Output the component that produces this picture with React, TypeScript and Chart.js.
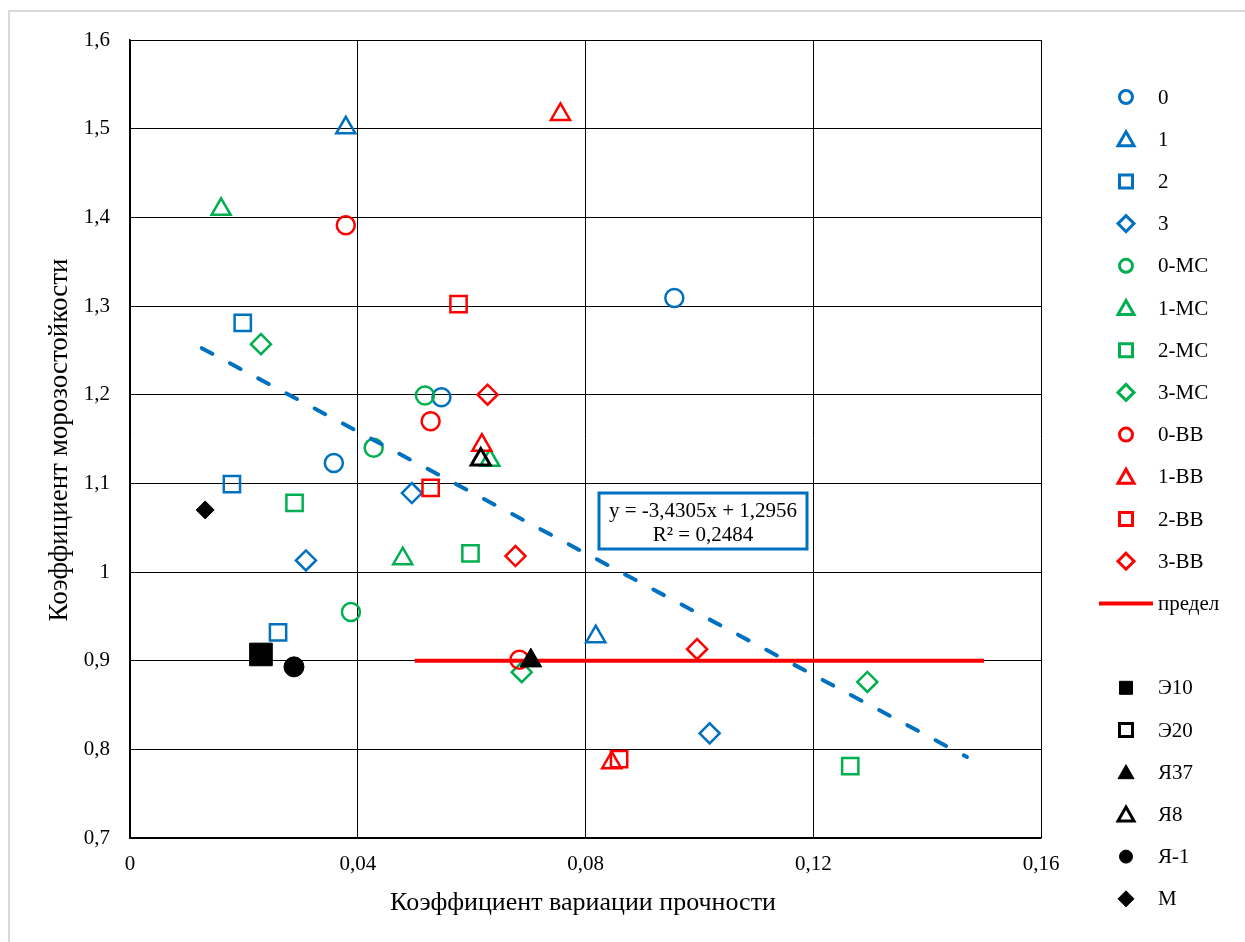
import React, { useEffect, useRef } from 'react';
import { Chart, registerables } from 'chart.js';

Chart.register(...registerables);

const BLUE = '#0070C0';
const GREEN = '#00B050';
const RED = '#FF0000';
const BLACK = '#000000';
const FONT = "'Liberation Serif', 'Times New Roman', serif";

// ---- data ----
const xTicks = [0, 0.04, 0.08, 0.12, 0.16];
const yTicks = [0.7, 0.8, 0.9, 1.0, 1.1, 1.2, 1.3, 1.4, 1.5, 1.6];

const s0X = [0.0956, 0.0547, 0.0358];
const s0Y = [1.309, 1.197, 1.123];
const s1X = [0.0379, 0.0818];
const s1Y = [1.501, 0.927];
const s2X = [0.0198, 0.0179, 0.026];
const s2Y = [1.281, 1.099, 0.932];
const s3X = [0.0495, 0.0309, 0.1018];
const s3Y = [1.089, 1.013, 0.818];
const s0MCX = [0.0518, 0.0428, 0.0388];
const s0MCY = [1.199, 1.14, 0.955];
const s1MCX = [0.016, 0.0479, 0.0632];
const s1MCY = [1.409, 1.015, 1.126];
const s2MCX = [0.0289, 0.0598, 0.1265];
const s2MCY = [1.078, 1.021, 0.781];
const s3MCX = [0.023, 0.0688, 0.1295];
const s3MCY = [1.257, 0.887, 0.876];
const s0BBX = [0.0379, 0.0528, 0.0684];
const s0BBY = [1.391, 1.17, 0.901];
const s1BBX = [0.0756, 0.0618, 0.0846];
const s1BBY = [1.516, 1.143, 0.785];
const s2BBX = [0.0577, 0.0528, 0.0859];
const s2BBY = [1.302, 1.095, 0.789];
const s3BBX = [0.0628, 0.0677, 0.0996];
const s3BBY = [1.2, 1.018, 0.913];
const limitX = [0.05, 0.15];
const limitY = [0.9, 0.9];
const e10X = [0.023];
const e10Y = [0.907];
const e20X = [0.023];
const e20Y = [0.907];
const ya37X = [0.0704];
const ya37Y = [0.9];
const ya8X = [0.0616];
const ya8Y = [1.127];
const ya1X = [0.0288];
const ya1Y = [0.893];
const mX = [0.0132];
const mY = [1.07];
const trendX = [0.0126, 0.147];
const trendY = [1.2524, 0.7913];
const trendText = ['y = -3,4305x + 1,2956', 'R² = 0,2484'];

type Shape = 'circle' | 'triangle' | 'rect' | 'rectRot' | 'line' | null;
interface Ser {
  label: string;
  x: number[];
  y: number[];
  shape: Shape;
  color: string;
  filled: boolean;
  r: number;
  bw: number;
}

const SERIES: Ser[] = [
  { label: '0', x: s0X, y: s0Y, shape: 'circle', color: BLUE, filled: false, r: 9, bw: 2.5 },
  { label: '1', x: s1X, y: s1Y, shape: 'triangle', color: BLUE, filled: false, r: 11, bw: 2.5 },
  { label: '2', x: s2X, y: s2Y, shape: 'rect', color: BLUE, filled: false, r: 11.5, bw: 2.5 },
  { label: '3', x: s3X, y: s3Y, shape: 'rectRot', color: BLUE, filled: false, r: 10, bw: 2.5 },
  { label: '0-МС', x: s0MCX, y: s0MCY, shape: 'circle', color: GREEN, filled: false, r: 9, bw: 2.5 },
  { label: '1-МС', x: s1MCX, y: s1MCY, shape: 'triangle', color: GREEN, filled: false, r: 11, bw: 2.5 },
  { label: '2-МС', x: s2MCX, y: s2MCY, shape: 'rect', color: GREEN, filled: false, r: 11.5, bw: 2.5 },
  { label: '3-МС', x: s3MCX, y: s3MCY, shape: 'rectRot', color: GREEN, filled: false, r: 10, bw: 2.5 },
  { label: '0-ВВ', x: s0BBX, y: s0BBY, shape: 'circle', color: RED, filled: false, r: 9, bw: 2.5 },
  { label: '1-ВВ', x: s1BBX, y: s1BBY, shape: 'triangle', color: RED, filled: false, r: 11, bw: 2.5 },
  { label: '2-ВВ', x: s2BBX, y: s2BBY, shape: 'rect', color: RED, filled: false, r: 11.5, bw: 2.5 },
  { label: '3-ВВ', x: s3BBX, y: s3BBY, shape: 'rectRot', color: RED, filled: false, r: 10, bw: 2.5 },
  { label: 'предел', x: limitX, y: limitY, shape: 'line', color: RED, filled: false, r: 0, bw: 4 },
  { label: 'Э10', x: e10X, y: e10Y, shape: 'rect', color: BLACK, filled: true, r: 16, bw: 1 },
  { label: 'Э20', x: e20X, y: e20Y, shape: 'rect', color: BLACK, filled: false, r: 11, bw: 3 },
  { label: 'Я37', x: ya37X, y: ya37Y, shape: 'triangle', color: BLACK, filled: true, r: 12.5, bw: 1 },
  { label: 'Я8', x: ya8X, y: ya8Y, shape: 'triangle', color: BLACK, filled: false, r: 11, bw: 3 },
  { label: 'Я-1', x: ya1X, y: ya1Y, shape: 'circle', color: BLACK, filled: true, r: 10, bw: 1 },
  { label: 'М', x: mX, y: mY, shape: 'rectRot', color: BLACK, filled: true, r: 9, bw: 1 },
];

const fmt = (v: number, d: number) => {
  const r = Math.round(v * Math.pow(10, d)) / Math.pow(10, d);
  return String(r).replace('.', ',');
};

function drawLegendShape(ctx: CanvasRenderingContext2D, s: Ser, cx: number, cy: number) {
  ctx.save();
  ctx.strokeStyle = s.color;
  ctx.fillStyle = s.filled ? s.color : '#ffffff';
  ctx.lineWidth = s.filled ? 1 : 3;
  ctx.beginPath();
  if (s.shape === 'circle') {
    ctx.arc(cx, cy, 6.5, 0, Math.PI * 2);
  } else if (s.shape === 'triangle') {
    ctx.moveTo(cx, cy - 7.5);
    ctx.lineTo(cx + 8, cy + 6.5);
    ctx.lineTo(cx - 8, cy + 6.5);
    ctx.closePath();
  } else if (s.shape === 'rect') {
    ctx.rect(cx - 6.5, cy - 6.5, 13, 13);
  } else if (s.shape === 'rectRot') {
    ctx.moveTo(cx, cy - 8);
    ctx.lineTo(cx + 8, cy);
    ctx.lineTo(cx, cy + 8);
    ctx.lineTo(cx - 8, cy);
    ctx.closePath();
  } else if (s.shape === 'line') {
    ctx.lineWidth = 4;
    ctx.moveTo(cx - 27, cy);
    ctx.lineTo(cx + 27, cy);
    ctx.stroke();
    ctx.restore();
    return;
  }
  ctx.fill();
  ctx.stroke();
  ctx.restore();
}

const decorPlugin = {
  id: 'decor',
  beforeDraw(chart: any) {
    const ctx = chart.ctx as CanvasRenderingContext2D;
    ctx.save();
    ctx.fillStyle = '#ffffff';
    ctx.fillRect(0, 0, chart.width, chart.height);
    ctx.strokeStyle = '#d9d9d9';
    ctx.lineWidth = 2;
    ctx.strokeRect(9, 11, chart.width + 20, chart.height + 20);
    ctx.restore();
  },
  afterDraw(chart: any) {
    const ctx = chart.ctx as CanvasRenderingContext2D;
    ctx.save();
    // axis titles
    ctx.fillStyle = '#000';
    ctx.textAlign = 'center';
    ctx.textBaseline = 'middle';
    ctx.font = `26px ${FONT}`;
    ctx.fillText('Коэффициент вариации прочности', 583, 903);
    ctx.save();
    ctx.translate(60, 440);
    ctx.rotate(-Math.PI / 2);
    ctx.font = `27px ${FONT}`;
    ctx.fillText('Коэффициент морозостойкости', 0, 0);
    ctx.restore();

    // legend
    const rows: (Ser | null)[] = [...SERIES.slice(0, 13), null, ...SERIES.slice(13)];
    ctx.font = `21px ${FONT}`;
    ctx.textAlign = 'left';
    rows.forEach((s, i) => {
      if (!s) return;
      const cy = 97 + i * 42.2;
      drawLegendShape(ctx, s, 1126, cy);
      ctx.fillStyle = '#000';
      ctx.fillText(s.label, 1158, cy + 1);
    });

    // trendline label
    ctx.fillStyle = '#ffffff';
    ctx.fillRect(599, 493, 208, 56);
    ctx.strokeStyle = BLUE;
    ctx.lineWidth = 3;
    ctx.strokeRect(599, 493, 208, 56);
    ctx.fillStyle = '#000';
    ctx.font = `21px ${FONT}`;
    ctx.textAlign = 'center';
    ctx.fillText(trendText[0], 703, 511);
    ctx.fillText(trendText[1], 703, 535);
    ctx.restore();
  },
};

export default function App() {
  const ref = useRef<HTMLCanvasElement>(null);
  useEffect(() => {
    if (!ref.current) return;
    const datasets: any[] = SERIES.map((s, i) => {
      const data = s.x.map((x, j) => ({ x, y: s.y[j] }));
      if (s.shape === 'line') {
        return {
          label: s.label,
          data,
          showLine: true,
          borderColor: s.color,
          borderWidth: s.bw,
          pointRadius: 0,
          fill: false,
          order: -i,
        };
      }
      return {
        label: s.label,
        data,
        showLine: false,
        pointStyle: s.shape,
        pointRadius: s.r,
        pointHoverRadius: s.r,
        pointBorderWidth: s.bw,
        pointBorderColor: s.color,
        pointBackgroundColor: s.filled ? s.color : 'rgba(255,255,255,0)',
        borderColor: s.color,
        backgroundColor: s.filled ? s.color : 'rgba(255,255,255,0)',
        order: -i,
      };
    });
    datasets.push({
      label: 'trend',
      data: trendX.map((x, j) => ({ x, y: trendY[j] })),
      showLine: true,
      borderColor: BLUE,
      borderWidth: 4,
      borderDash: [12, 20],
      borderCapStyle: 'round',
      pointRadius: 0,
      fill: false,
      order: -100,
    });

    const chart = new Chart(ref.current, {
      type: 'scatter',
      data: { datasets },
      options: {
        animation: false,
        responsive: false,
        devicePixelRatio: 1,
        layout: { padding: { left: 0, top: 40, right: 204, bottom: 0 } },
        plugins: { legend: { display: false }, tooltip: { enabled: false } },
        scales: {
          x: {
            type: 'linear',
            min: xTicks[0],
            max: xTicks[xTicks.length - 1],
            afterBuildTicks: (scale: any) => {
              scale.ticks = xTicks.map((v) => ({ value: v }));
            },
            afterFit: (scale: any) => {
              scale.height = 104;
            },
            ticks: {
              color: '#000',
              font: { family: FONT, size: 21 },
              padding: 14,
              callback: (v: any) => fmt(Number(v), 2),
              maxRotation: 0,
            },
            grid: { color: '#000', lineWidth: 1, drawTicks: false },
            border: { display: true, color: '#000', width: 1.5 },
          },
          y: {
            type: 'linear',
            min: yTicks[0],
            max: yTicks[yTicks.length - 1],
            afterBuildTicks: (scale: any) => {
              scale.ticks = yTicks.map((v) => ({ value: v }));
            },
            afterFit: (scale: any) => {
              scale.width = 130;
            },
            ticks: {
              color: '#000',
              font: { family: FONT, size: 21 },
              padding: 20,
              callback: (v: any) => fmt(Number(v), 1),
            },
            grid: { color: '#000', lineWidth: 1, drawTicks: false },
            border: { display: true, color: '#000', width: 1.5 },
          },
        },
      },
      plugins: [decorPlugin],
    } as any);
    return () => chart.destroy();
  }, []);

  return (
    <div style={{ position: 'fixed', left: 0, top: 0, width: 1245, height: 942, background: '#fff' }}>
      <canvas ref={ref} width={1245} height={942} style={{ width: 1245, height: 942, display: 'block' }} />
    </div>
  );
}
